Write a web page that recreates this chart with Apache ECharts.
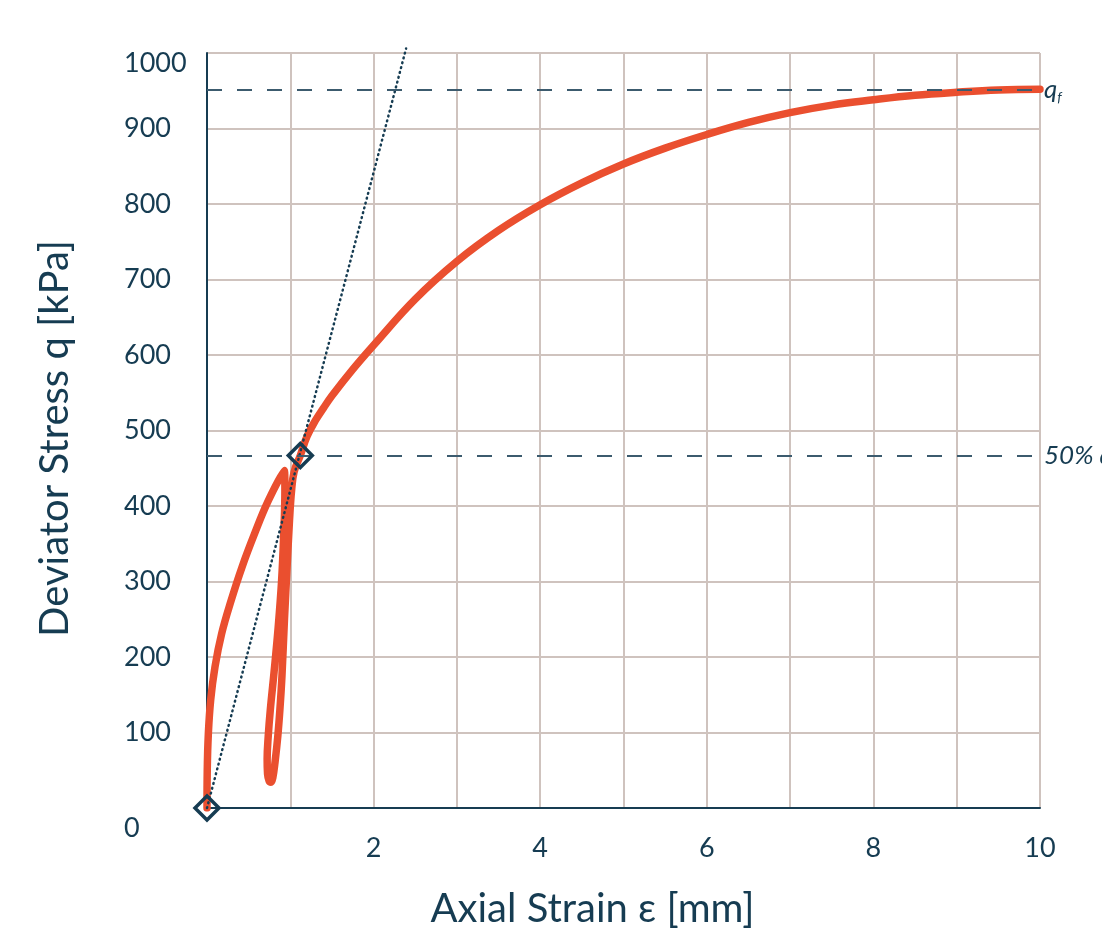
<!DOCTYPE html>
<html>
<head>
<meta charset="utf-8">
<script src="https://cdn.jsdelivr.net/npm/echarts@6/dist/echarts.min.js"></script>
<style>
  html, body { margin: 0; padding: 0; background: #fff; }
  #chart { width: 1102px; height: 929px; }
</style>
</head>
<body>
<div id="chart"></div>
<script>
// stress-strain curve: first loading, unloading, reloading, then the main branch
var curveStrain = [0, 0.003, 0.016, 0.044, 0.096, 0.176, 0.29, 0.42, 0.57, 0.736, 0.928,
	0.935, 0.92, 0.895, 0.855, 0.805, 0.76, 0.735, 0.722, 0.727, 0.745, 0.768,
	0.79, 0.818, 0.85, 0.875, 0.9, 0.93, 0.962, 0.99, 1.015, 1.045, 1.12,
	1.2, 1.3, 1.4, 1.5, 1.75, 2, 2.5, 3, 3.5, 4, 4.5, 5, 5.5, 6, 6.5, 7, 7.5, 8, 8.5, 9, 9.5, 10];
var curveStress = [0, 50, 98, 143, 187, 231, 275, 319, 363, 407, 447,
	420, 360, 300, 240, 180, 130, 95, 65, 45, 36, 34,
	40, 62, 95, 130, 175, 250, 320, 380, 420, 445, 467,
	492, 513, 530, 546, 581, 613, 674, 724, 765, 799, 828, 853, 874, 892, 908, 921, 931, 938, 944, 948, 951, 952];

// secant line through the origin
var tangentStrain = [0, 2.39];
var tangentStress = [0, 1006];

// diamond markers
var markerStrain = [0, 1.12];
var markerStress = [0, 467];

var qf = 951;
var halfQf = 467;

var yTicks = [0, 100, 200, 300, 400, 500, 600, 700, 800, 900, 1000];
var xTickLabels = [2, 4, 6, 8, 10];

function pairs(xs, ys) {
	var out = [];
	for (var i = 0; i < xs.length; i++) {
		out.push([xs[i], ys[i]]);
	}
	return out;
}

var dark = '#163c52';
var gridColor = '#cfc3be';
var red = '#ea4f2f';
var dashColor = '#3c5b6e';
var font = 'Lato';

var chart = echarts.init(document.getElementById('chart'));
var option = {
	backgroundColor: '#fff',
	animation: false,
	textStyle: { fontFamily: font },
	grid: {
		left: 207,
		right: 62,
		top: 53,
		bottom: 121,
		outerBoundsMode: 'none'
	},
	xAxis: {
		type: 'value',
		min: 0,
		max: 10,
		interval: 1,
		name: 'Axial Strain ε [mm]',
		nameLocation: 'middle',
		nameGap: 81,
		nameTextStyle: {
			fontFamily: font,
			fontSize: 40,
			color: dark,
			padding: [0, 62, 0, 0]
		},
		axisLine: { show: true, lineStyle: { color: dark, width: 2 } },
		axisTick: { show: false },
		splitLine: { show: true, lineStyle: { color: gridColor, width: 2 } },
		axisLabel: {
			margin: 27,
			fontFamily: font,
			fontSize: 27,
			color: dark,
			formatter: function (v) {
				return xTickLabels.indexOf(v) >= 0 ? String(v) : '';
			}
		}
	},
	yAxis: {
		type: 'value',
		min: 0,
		max: 1000,
		interval: 100,
		name: 'Deviator Stress q [kPa]',
		nameLocation: 'middle',
		nameGap: 132,
		nameTextStyle: {
			fontFamily: font,
			fontSize: 40,
			color: dark,
			padding: [0, 16, 0, 0]
		},
		axisLine: { show: true, lineStyle: { color: dark, width: 2 } },
		axisTick: { show: false },
		splitLine: { show: true, lineStyle: { color: gridColor, width: 2 } },
		axisLabel: {
			margin: 83,
			align: 'left',
			fontFamily: font,
			fontSize: 27,
			color: dark,
			formatter: function (v) {
				if (yTicks.indexOf(v) < 0) return '';
				if (v === 0) return '{bot|0}';
				if (v === 1000) return '{top|1000}';
				return String(v);
			},
			rich: {
				bot: { fontFamily: font, fontSize: 27, color: dark, padding: [40, 0, 0, 0] },
				top: { fontFamily: font, fontSize: 27, color: dark, padding: [20, 0, 0, 0] }
			}
		}
	},
	series: [
		{
			name: 'curve',
			type: 'line',
			data: pairs(curveStrain, curveStress),
			smooth: 0.4,
			showSymbol: false,
			symbol: 'none',
			lineStyle: { color: red, width: 7.5, cap: 'round', join: 'round' },
			z: 2
		},
		{
			name: 'tangent',
			type: 'line',
			data: pairs(tangentStrain, tangentStress),
			clip: false,
			showSymbol: false,
			symbol: 'none',
			lineStyle: { color: dark, width: 2.5, type: [0.8, 4.2], cap: 'round' },
			z: 3
		},
		{
			name: 'levels',
			type: 'line',
			data: [],
			z: 4,
			markLine: {
				silent: true,
				symbol: 'none',
				lineStyle: { color: dashColor, width: 2, type: [15, 15] },
				label: {
					position: 'end',
					distance: 4,
					color: dark,
					fontFamily: font,
					fontStyle: 'italic',
					fontSize: 26
				},
				data: [
					{
						yAxis: qf,
						label: {
							formatter: '{q|q}{f|f}',
							rich: {
								q: { fontFamily: font, fontStyle: 'italic', fontSize: 26, color: dark },
								f: { fontFamily: font, fontStyle: 'italic', fontSize: 14, color: dark, padding: [15, 0, 0, 0] }
							}
						}
					},
					{
						yAxis: halfQf,
						label: {
							formatter: '{p|50% q}{f|f}',
							rich: {
								p: { fontFamily: font, fontStyle: 'italic', fontSize: 26, color: dark },
								f: { fontFamily: font, fontStyle: 'italic', fontSize: 14, color: dark, padding: [15, 0, 0, 0] }
							}
						}
					}
				]
			}
		},
		{
			name: 'markers',
			type: 'scatter',
			data: pairs(markerStrain, markerStress),
			clip: false,
			symbol: 'diamond',
			symbolSize: [24, 24],
			itemStyle: { color: 'rgba(255,255,255,0)', borderColor: dark, borderWidth: 3.5, opacity: 1 },
			z: 5
		}
	]
};
chart.setOption(option);
</script>
</body>
</html>
